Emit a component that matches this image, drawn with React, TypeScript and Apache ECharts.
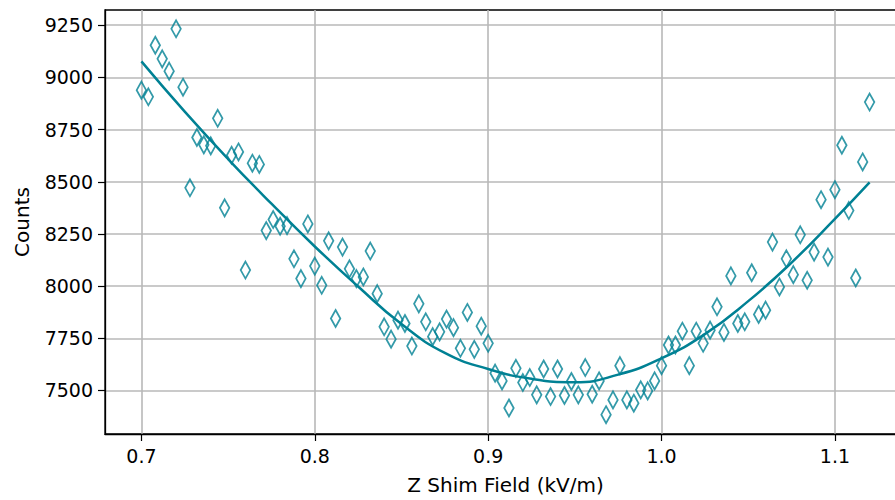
import React, { useEffect, useRef } from "react";
import * as echarts from "echarts";

const fieldKV = [0.700,0.704,0.708,0.712,0.716,0.720,0.724,0.728,0.732,0.736,0.740,0.744,0.748,0.752,0.756,0.760,0.764,0.768,0.772,0.776,0.780,0.784,0.788,0.792,0.796,0.800,0.804,0.808,0.812,0.816,0.820,0.824,0.828,0.832,0.836,0.840,0.844,0.848,0.852,0.856,0.860,0.864,0.868,0.872,0.876,0.880,0.884,0.888,0.892,0.896,0.900,0.904,0.908,0.912,0.916,0.920,0.924,0.928,0.932,0.936,0.940,0.944,0.948,0.952,0.956,0.960,0.964,0.968,0.972,0.976,0.980,0.984,0.988,0.992,0.996,1.000,1.004,1.008,1.012,1.016,1.020,1.024,1.028,1.032,1.036,1.040,1.044,1.048,1.052,1.056,1.060,1.064,1.068,1.072,1.076,1.080,1.084,1.088,1.092,1.096,1.100,1.104,1.108,1.112,1.116,1.120];

const counts = [8939,8907,9154,9089,9030,9233,8953,8471,8712,8677,
8672,8804,8375,8627,8643,8077,8589,8583,8266,8319,
8287,8290,8131,8036,8298,8096,8004,8217,7845,8187,
8083,8036,8044,8168,7964,7805,7746,7837,7821,7713,
7915,7829,7758,7781,7842,7801,7702,7874,7697,7808,
7726,7583,7546,7416,7606,7538,7562,7479,7603,7471,
7603,7476,7543,7479,7610,7482,7546,7384,7455,7619,
7455,7439,7503,7498,7546,7619,7718,7718,7784,7619,
7784,7726,7789,7901,7778,8049,7821,7829,8064,7864,
7885,8211,7996,8131,8055,8246,8028,8163,8414,8139,
8462,8675,8362,8039,8595,8882];

const fitX = [0.700,0.725,0.750,0.775,0.800,0.825,0.850,0.875,0.900,0.925,0.950,0.975,1.000,1.025,1.050,1.075,1.100,1.120];
const fitY = [9077,8836,8609,8395,8190,7998,7818,7680,7603,7556,7540,7576,7654,7770,7928,8113,8322,8497];

const xTicks = [0.7, 0.8, 0.9, 1.0, 1.1];
const yTicks = [7500, 7750, 8000, 8250, 8500, 8750, 9000, 9250];

const TEAL = "#008194";
const FONT = "DejaVu Sans";

export default function App() {
  const ref = useRef<HTMLDivElement>(null);
  useEffect(() => {
    if (!ref.current) return;
    const chart = echarts.init(ref.current, undefined, { renderer: "svg" });
    chart.setOption({
      animation: false,
      backgroundColor: "#ffffff",
      grid: {
        left: 105,
        top: 10,
        width: 801,
        height: 426,
        show: true,
        borderColor: "#000000",
        borderWidth: 1.3,
        backgroundColor: "transparent",
      },
      xAxis: {
        type: "value",
        min: 0.679,
        max: 1.141,
        name: "Z Shim Field (kV/m)",
        nameLocation: "middle",
        nameGap: 41,
        nameTextStyle: { fontFamily: FONT, fontSize: 20, color: "#000" },
        axisLine: { show: true, onZero: false, lineStyle: { color: "#000", width: 1.3 } },
        axisTick: { show: true, length: 7, customValues: xTicks, lineStyle: { color: "#000", width: 1.2 } },
        axisLabel: {
          customValues: xTicks,
          margin: 12,
          fontFamily: FONT,
          fontSize: 19,
          color: "#000",
          formatter: (v: number) => v.toFixed(1),
        },
        splitLine: { show: true, lineStyle: { color: "#b8b8b8", width: 1.6 } },
      },
      yAxis: {
        type: "value",
        min: 7291.5,
        max: 9323,
        name: "Counts",
        nameLocation: "middle",
        nameGap: 73,
        nameTextStyle: { fontFamily: FONT, fontSize: 20, color: "#000" },
        axisLine: { show: true, onZero: false, lineStyle: { color: "#000", width: 1.3 } },
        axisTick: { show: true, length: 7, customValues: yTicks, lineStyle: { color: "#000", width: 1.2 } },
        axisLabel: {
          customValues: yTicks,
          margin: 12,
          fontFamily: FONT,
          fontSize: 19,
          color: "#000",
          formatter: (v: number) => String(Math.round(v)),
        },
        splitLine: { show: true, lineStyle: { color: "#b8b8b8", width: 1.6 } },
      },
      series: [
        {
          type: "scatter",
          data: fieldKV.map((x, i) => [x, counts[i]]),
          symbol: "diamond",
          symbolSize: [9.5, 17],
          itemStyle: { color: "rgba(255,255,255,0)", borderColor: TEAL, borderWidth: 1.9 },
          z: 3,
        },
        {
          type: "line",
          data: fitX.map((x, i) => [x, fitY[i]]),
          smooth: 0.5,
          showSymbol: false,
          symbol: "none",
          lineStyle: { color: TEAL, width: 2.5 },
          z: 4,
        },
      ],
    });
    return () => chart.dispose();
  }, []);
  return (
    <div style={{ position: "fixed", left: 0, top: 0, width: 895, height: 500, overflow: "hidden", background: "#fff" }}>
      <div ref={ref} style={{ position: "absolute", left: 0, top: 0, width: 940, height: 500 }} />
    </div>
  );
}
